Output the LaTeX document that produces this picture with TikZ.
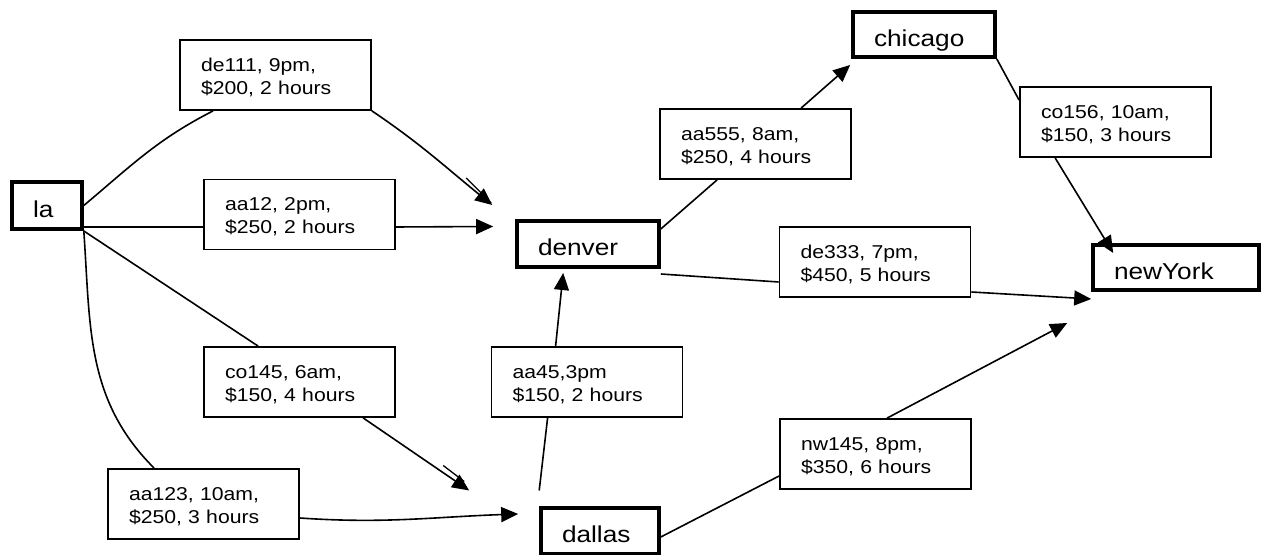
\documentclass[tikz,border=0pt]{standalone}
\usepackage{fontspec}
\setmainfont{Liberation Sans}[FakeStretch=1.14]
\usetikzlibrary{calc,arrows.meta}
\begin{document}
\begin{tikzpicture}[x=1pt,y=1pt,
  city/.style={draw, line width=3.6pt, inner xsep=21pt, inner ysep=0pt, align=left,
    text height=24pt, text depth=0pt, font=\fontsize{23}{27}\selectfont},
  flight/.style={draw, fill=white, line width=1.8pt, text width=149pt, inner xsep=21pt,
    minimum height=70pt, align=left, text height=18pt, text depth=25pt,
    font=\fontsize{18.6}{23}\selectfont},
  conn/.style={line width=1.6pt},
  arr/.style={conn, -{Triangle[length=17pt,width=15pt]}},
  ghost/.style={line width=1.3pt},
]
\useasboundingbox (0,0) rectangle (1262,556);

% cities
\node[city, text width=28pt,  minimum height=47.4pt] (la)      at (47,350.5)   {la};
\node[city, text width=100pt, minimum height=46.4pt] (denver)  at (588,312)    {denver};
\node[city, text width=100pt, minimum height=45.4pt] (chicago) at (924,521.5)  {chicago};
\node[city, text width=124pt, minimum height=45.4pt] (newyork) at (1176,288.5) {newYork};
\node[city, text width=76pt,  minimum height=45.4pt] (dallas)  at (600,25)     {dallas};

% flights
\node[flight] (de111) at (275.5,481)  {de111, 9pm,\\ \$200, 2 hours};
\node[flight] (aa12)  at (299.5,341.5){aa12, 2pm,\\ \$250, 2 hours};
\node[flight] (co145) at (299.5,174)  {co145, 6am,\\ \$150, 4 hours};
\node[flight] (aa123) at (203.5,52)   {aa123, 10am,\\ \$250, 3 hours};
\node[flight] (aa45)  at (587,174)    {aa45,3pm\\ \$150, 2 hours};
\node[flight] (aa555) at (755.5,412)  {aa555, 8am,\\ \$250, 4 hours};
\node[flight] (co156) at (1115.5,434) {co156, 10am,\\ \$150, 3 hours};
\node[flight] (de333) at (875,294)    {de333, 7pm,\\ \$450, 5 hours};
\node[flight] (nw145) at (875.5,102)  {nw145, 8pm,\\ \$350, 6 hours};

% la - de111 - denver
\coordinate (t1) at ($(denver.north west)+(-23,14)$);
\draw[conn] (la.east) to[out=40,in=207] ($(de111.south west)+(34,0)$);
\draw[arr] (de111.south east) to[out=-34,in=141] (t1);
\draw[ghost] ($(t1)+(-26,27)$) -- ($(t1)+(-1,2)$);

% la - aa12 - denver
\draw[conn] ($(la.south east)+(0,4)$) -- ($(aa12.west)+(0,-12.5)$);
\draw[arr] ($(aa12.east)+(0,-12.5)$) -- ($(denver.west)+(-22,17.5)$);

% la - co145 - dallas
\coordinate (t3) at ($(dallas.north west)+(-70,16)$);
\draw[conn] (la.south east) -- ($(co145.north west)+(55,0)$);
\draw[arr] ($(co145.south west)+(160,0)$) -- (t3);
\draw[ghost] ($(t3)+(-26,25)$) -- ($(t3)+(-5,9)$);

% la - aa123 - dallas
\coordinate (t4) at ($(dallas.west)+(-21,17)$);
\draw[conn] (la.south east) to[out=-86,in=135] ($(aa123.north west)+(47,0)$);
\draw[arr] ($(aa123.east)+(0,-14)$) to[out=-4,in=182] (t4);

% dallas - aa45 - denver
\draw[conn] ($(dallas.north west)+(0,16)$) -- ($(aa45.south west)+(57,0)$);
\draw[arr] ($(aa45.north west)+(65,0)$) -- ($(denver.south west)+(48,-4)$);

% denver - aa555 - chicago
\draw[conn] ($(denver.north east)+(0,-10)$) -- ($(aa555.south west)+(58,0)$);
\draw[arr] ($(aa555.north west)+(142,0)$) -- ($(chicago.south west)+(-1,-6)$);

% chicago - co156 - newYork
\draw[conn] (chicago.south east) -- ($(co156.north west)+(0,-14)$);
\draw[arr] ($(co156.south west)+(36,0)$) -- ($(newyork.north west)+(22,-10)$);

% denver - de333 - newYork
\draw[conn] ($(denver.south east)+(0,-5)$) -- ($(de333.west)+(0,-20)$);
\draw[arr] ($(de333.east)+(0,-30)$) -- ($(newyork.south west)+(0,-7)$);

% dallas - nw145 - newYork
\draw[conn] ($(dallas.east)+(0,-6)$) -- ($(nw145.west)+(0,-22)$);
\draw[arr] ($(nw145.north west)+(108,0)$) -- ($(newyork.south west)+(-24,-31)$);
\end{tikzpicture}
\end{document}
